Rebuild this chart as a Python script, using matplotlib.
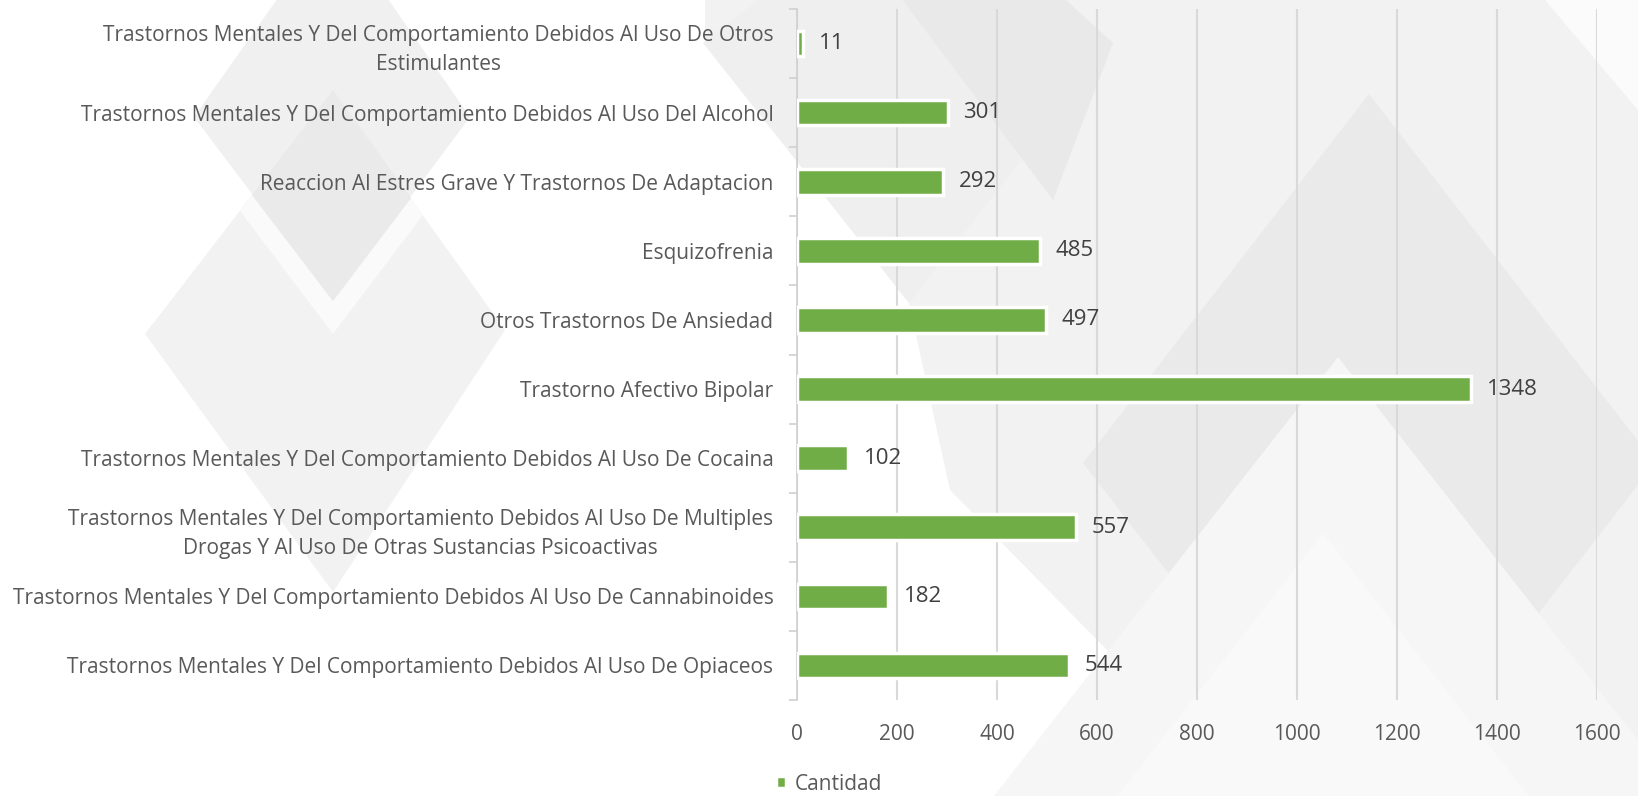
import matplotlib.pyplot as plt
from matplotlib.patches import Polygon

plt.rcParams['font.family'] = ['Open Sans', 'DejaVu Sans']

categorias = [
    "Trastornos Mentales Y Del Comportamiento Debidos Al Uso De Opiaceos",
    "Trastornos Mentales Y Del Comportamiento Debidos Al Uso De Cannabinoides",
    "Trastornos Mentales Y Del Comportamiento Debidos Al Uso De Multiples\nDrogas Y Al Uso De Otras Sustancias Psicoactivas",
    "Trastornos Mentales Y Del Comportamiento Debidos Al Uso De Cocaina",
    "Trastorno Afectivo Bipolar",
    "Otros Trastornos De Ansiedad",
    "Esquizofrenia",
    "Reaccion Al Estres Grave Y Trastornos De Adaptacion",
    "Trastornos Mentales Y Del Comportamiento Debidos Al Uso Del Alcohol",
    "Trastornos Mentales Y Del Comportamiento Debidos Al Uso De Otros\nEstimulantes",
]
cantidad = [544, 182, 557, 102, 1348, 497, 485, 292, 301, 11]
xticks = [0, 200, 400, 600, 800, 1000, 1200, 1400, 1600]

W, H = 1638, 796
fig = plt.figure(figsize=(W / 100, H / 100), dpi=100)
fig.patch.set_facecolor('white')

# decorative background shapes (pixel coords of the reference image)
fondo = [
    ([(705, 0), (1638, 0), (1638, 796), (1250, 796), (950, 490), (909, 303),
      (705, 40)], '#f2f2f2'),
    ([(703, 43), (900, -110), (1113, 43), (909, 303)], '#efefef'),
    ([(880, -30), (1000, -60), (1113, 43), (1053, 200)], '#e9e9e9'),
    ([(1083, 463), (1369, 94), (1655, 463), (1369, 832)], '#eaeaea'),
    ([(1338, 357), (994, 796), (1682, 796)], '#f6f6f6'),
    ([(1323, 533), (1117, 796), (1529, 796)], '#f9f9f9'),
    ([(1545, 0), (1638, 0), (1638, 110)], '#fbfbfb'),
    # left side
    ([(194, 117), (333, -80), (470, 117), (333, 301)], '#f0f0f0'),
    ([(145, 334), (333, 90), (505, 330), (333, 592)], '#f2f2f2'),
    ([(252, 195), (333, 301), (411, 198), (423, 215), (333, 334), (240, 211)], '#fafafa'),
    ([(252, 195), (333, 90), (411, 198), (333, 301)], '#eaeaea'),
]
for pts, col in fondo:
    fig.patches.append(Polygon([(x / W, 1 - y / H) for x, y in pts], closed=True,
                               transform=fig.transFigure, facecolor=col,
                               edgecolor='none', zorder=-10))

ax = fig.add_axes([797 / W, 1 - 700 / H, 800 / W, 691 / H])
ax.set_facecolor('none')

y = list(range(len(categorias)))
bars = ax.barh(y, cantidad, height=0.37, color='#70ad47', edgecolor='white',
               linewidth=2.5, zorder=3, label='Cantidad')
for b, v in zip(bars, cantidad):
    ax.text(v + 32, b.get_y() + b.get_height() / 2, str(v), va='center',
            ha='left', fontsize=16, color='#404040', zorder=4)

ax.set_xlim(0, 1600)
ax.set_ylim(-0.5, len(categorias) - 0.5)
ax.set_xticks(xticks)
ax.set_xticklabels([str(t) for t in xticks], fontsize=15, color='#595959')
ax.set_yticks(y)
ax.set_yticklabels(categorias, fontsize=15, color='#595959', linespacing=1.5)
for lbl in ax.get_yticklabels():
    lbl.set_multialignment('center')
ax.tick_params(axis='y', length=0, pad=17)
ax.tick_params(axis='x', length=0, pad=17)
ax.set_yticks([i - 0.5 for i in range(len(categorias) + 1)], minor=True)
ax.tick_params(axis='y', which='minor', length=6, color='#d0d0d0', width=1.2)

ax.grid(axis='x', color='#d9d9d9', linewidth=1.5, zorder=0)
ax.set_axisbelow(True)
for s in ['top', 'right', 'bottom']:
    ax.spines[s].set_visible(False)
ax.spines['left'].set_color('#d0d0d0')
ax.spines['left'].set_linewidth(1.2)

fig.legend(handles=[bars], labels=['Cantidad'], loc='center',
           bbox_to_anchor=(0.506, 1 - 784 / H), frameon=False, fontsize=15,
           labelcolor='#595959', handlelength=0.5, handleheight=0.5,
           handletextpad=0.4)

fig.savefig('out.png', dpi=100)
